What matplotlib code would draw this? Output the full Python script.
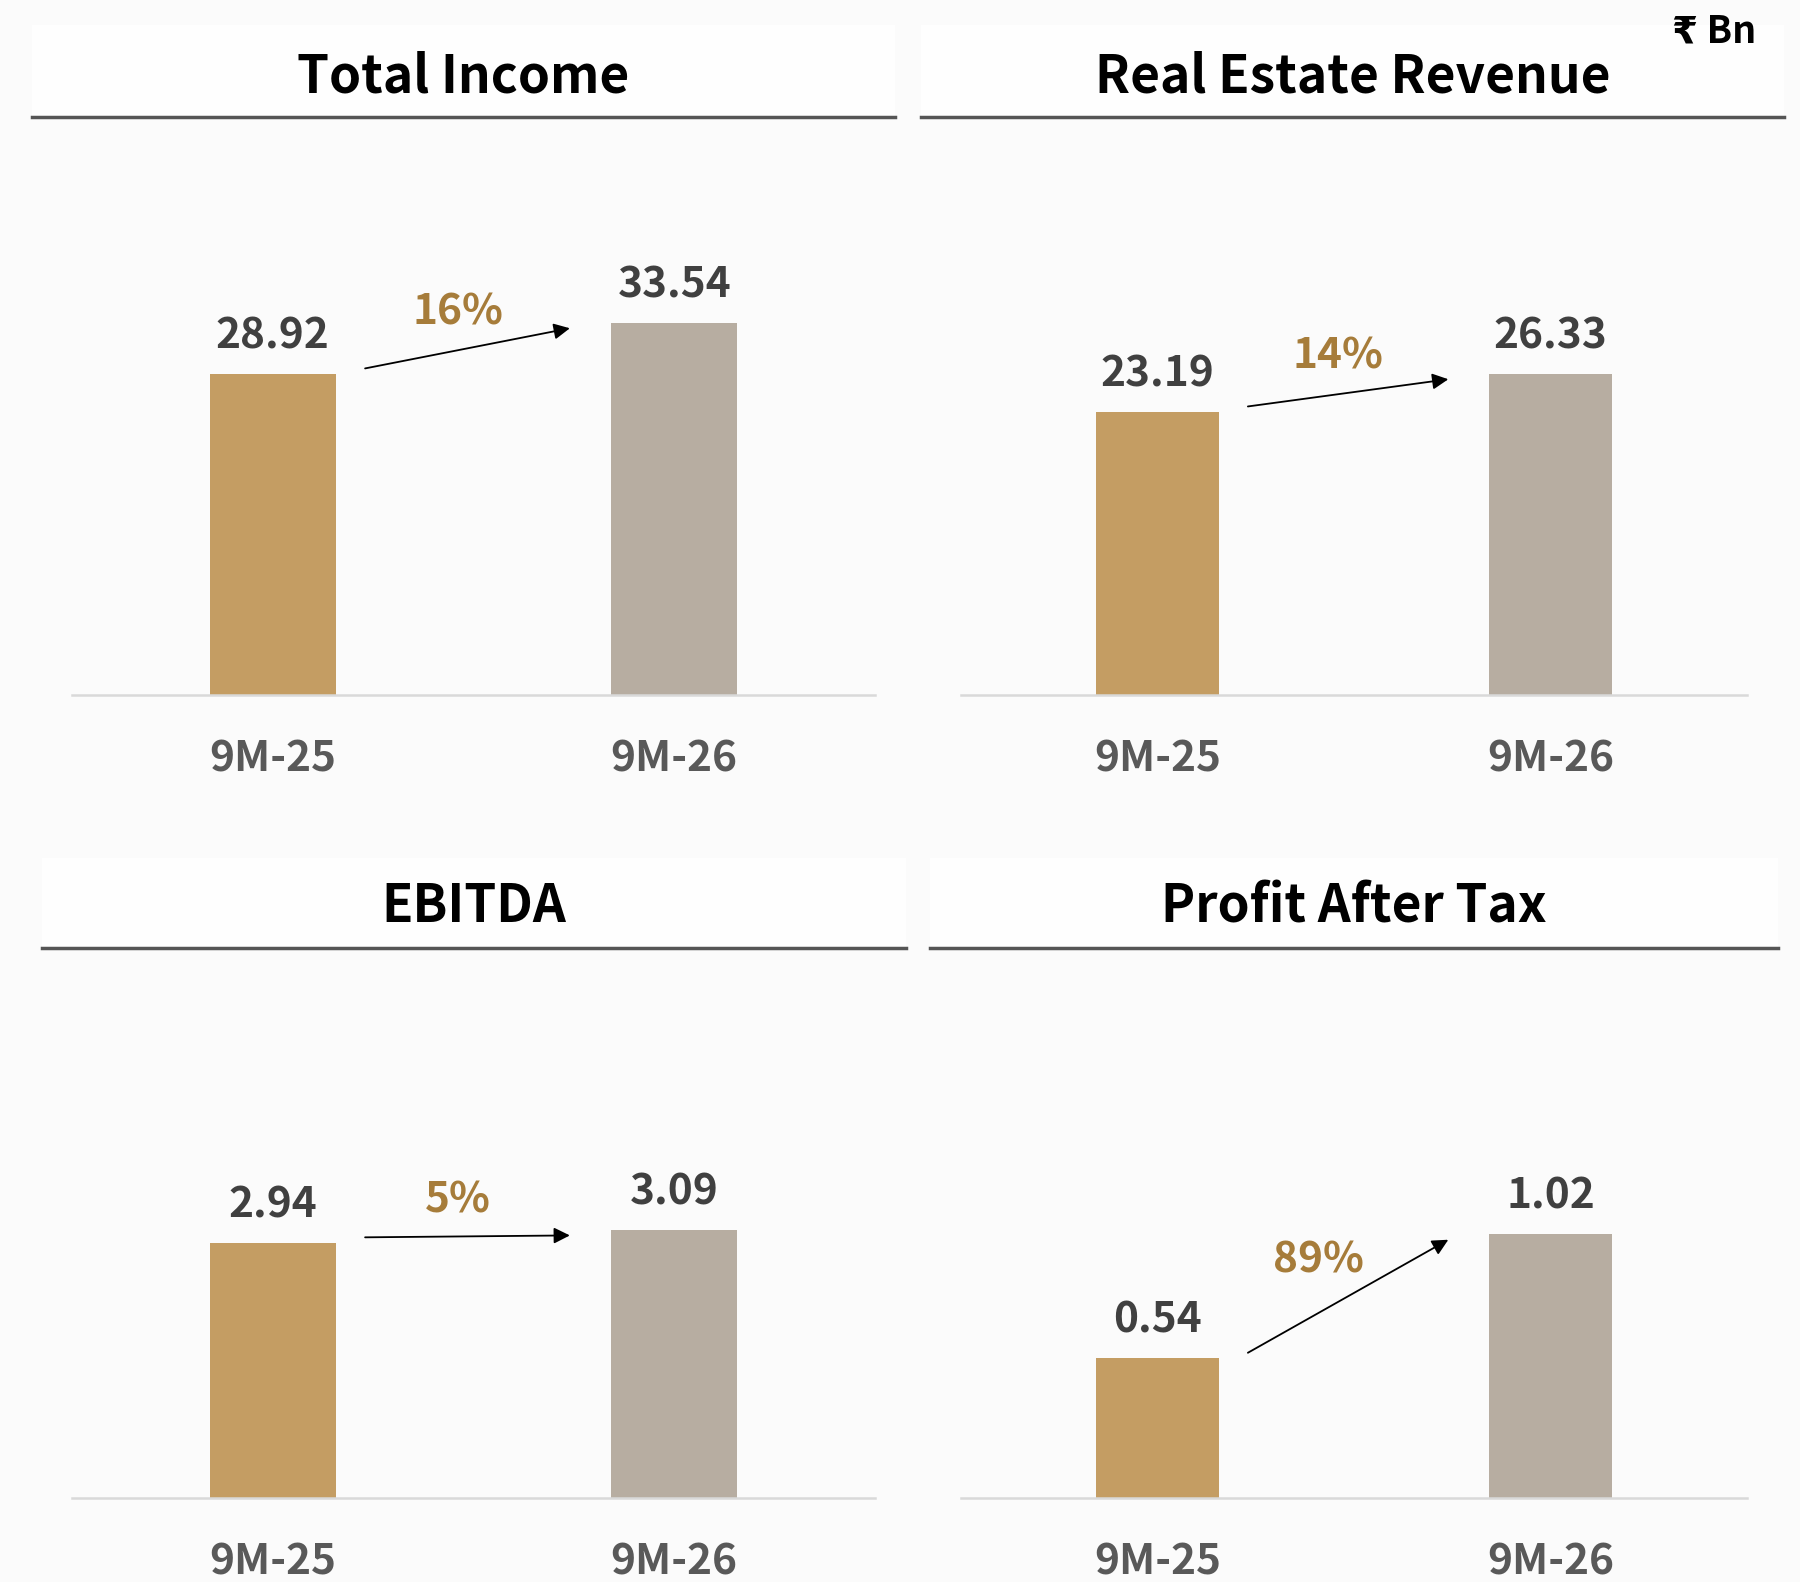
import matplotlib
matplotlib.use("Agg")
import matplotlib.pyplot as plt
from matplotlib.patches import Rectangle
from matplotlib.lines import Line2D
from matplotlib.transforms import offset_copy

plt.rcParams['font.family'] = ['Noto Sans CJK SC', 'DejaVu Sans']

# ---- data ----
periods = ["9M-25", "9M-26"]
titles = ["Total Income", "Real Estate Revenue", "EBITDA", "Profit After Tax"]
total_income = [28.92, 33.54]
real_estate_revenue = [23.19, 26.33]
ebitda = [2.94, 3.09]
profit_after_tax = [0.54, 1.02]
growth_labels = ["16%", "14%", "5%", "89%"]
unit_label = "₹ Bn"

series = [total_income, real_estate_revenue, ebitda, profit_after_tax]

# ---- layout (pixels) ----
W, H = 1800, 1582
fig = plt.figure(figsize=(W / 100, H / 100), dpi=100)
fig.patch.set_facecolor("#FBFBFB")

axes_px = [(72, 875, 130, 695), (961, 1747, 130, 695),
           (72, 875, 960, 1498), (961, 1747, 960, 1498)]
ylim_tops = [50.9, 46.3, 6.2, 2.08]
title_px = [(32, 895, 25, 117, 77), (921, 1784, 25, 117, 77),
            (42, 906, 858, 948, 907), (930, 1778, 858, 948, 907)]
pct_x = [0.46, 0.46, 0.46, 0.41]

bar_colors = ["#C49D63", "#B7ADA1"]

for i in range(4):
    x0, x1, yt, yb = axes_px[i]
    ax = fig.add_axes([x0 / W, 1 - yb / H, (x1 - x0) / W, (yb - yt) / H])
    ax.set_facecolor("none")
    vals = series[i]
    xs = list(range(len(periods)))
    ax.bar(xs, vals, width=0.313, color=bar_colors, zorder=2)
    ax.set_xlim(-0.5, 1.5)
    ax.set_ylim(0, ylim_tops[i])
    for s in ["top", "left", "right"]:
        ax.spines[s].set_visible(False)
    ax.spines["bottom"].set_color("#D9D9D9")
    ax.spines["bottom"].set_linewidth(1.8)
    ax.set_yticks([])
    ax.set_xticks(xs)
    ax.set_xticklabels(periods, fontsize=30.5, color="#595959", fontweight="bold")
    ax.tick_params(axis="x", length=0, pad=31)
    for x, v in zip(xs, vals):
        ax.annotate(f"{v:.2f}", (x, v), xytext=(0, 27), textcoords="offset points",
                    ha="center", va="center", fontsize=30.5, fontweight="bold",
                    color="#404040")
    # growth arrow
    ax.annotate("", xy=(0.74, vals[1]), xytext=(0.23, vals[0]),
                xycoords=offset_copy(ax.transData, fig=fig, y=-4, units="points"),
                textcoords=offset_copy(ax.transData, fig=fig, y=4, units="points"),
                arrowprops=dict(arrowstyle="-|>", color="black", lw=1.3,
                                mutation_scale=24, shrinkA=0, shrinkB=0))
    ax.annotate(growth_labels[i], (pct_x[i], (vals[0] + vals[1]) / 2),
                xytext=(0, 26), textcoords="offset points", ha="center",
                va="center", fontsize=30.5, fontweight="bold", color="#A67C3A")

    tx0, tx1, tyt, tyl, tyc = title_px[i]
    fig.patches.append(Rectangle((tx0 / W, 1 - tyl / H), (tx1 - tx0) / W, (tyl - tyt) / H,
                                 transform=fig.transFigure, facecolor="#FEFEFE",
                                 edgecolor="none", zorder=0))
    fig.lines.append(Line2D([tx0 / W, tx1 / W], [1 - tyl / H, 1 - tyl / H],
                            transform=fig.transFigure, color="#555555", lw=2.5))
    fig.text((tx0 + tx1) / 2 / W, 1 - tyc / H, titles[i], ha="center", va="center",
             fontsize=37, fontweight="bold", color="black")

fig.text(1756 / W, 1 - 31 / H, unit_label, ha="right", va="center", fontsize=27,
         fontweight="bold", color="black")

fig.savefig("out.png", dpi=100, facecolor=fig.get_facecolor())
